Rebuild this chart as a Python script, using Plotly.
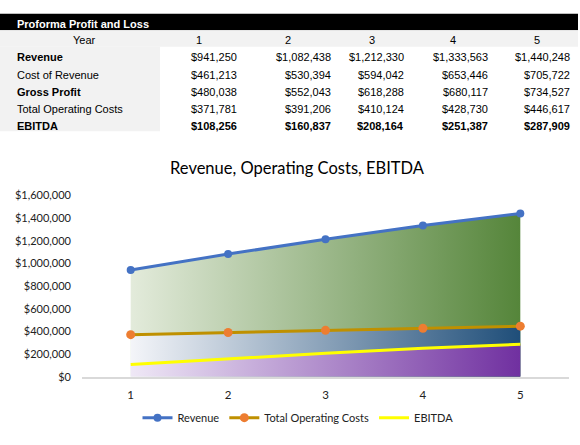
import plotly.graph_objects as go

# Proforma figures, years 1-5
years = [1, 2, 3, 4, 5]
revenue = [941250, 1082438, 1212330, 1333563, 1440248]
cost_of_revenue = [461213, 530394, 594042, 653446, 705722]
gross_profit = [480038, 552043, 618288, 680117, 734527]
operating_costs = [371781, 391206, 410124, 428730, 446617]
ebitda = [108256, 160837, 208164, 251387, 287909]

row_labels = ["Revenue", "Cost of Revenue", "Gross Profit", "Total Operating Costs", "EBITDA"]
row_values = [revenue, cost_of_revenue, gross_profit, operating_costs, ebitda]
bold_labels = ["Revenue", "Gross Profit", "EBITDA"]
bold_values = ["EBITDA"]

W, H = 580, 445


def px(x):
    return x / W


def py(y):
    return 1 - y / H


fig = go.Figure()

# filled areas (no legend), drawn back to front
fills = [
    (revenue, "#e3ebdb", "#55853a"),
    (operating_costs, "#f4f5f9", "#1f4e79"),
    (ebitda, "#efe8f6", "#7030a0"),
]
for vals, c0, c1 in fills:
    fig.add_trace(go.Scatter(
        x=years, y=vals, mode="none", fill="tozeroy", showlegend=False,
        fillgradient=dict(type="horizontal", colorscale=[[0, c0], [1, c1]]),
        hoverinfo="skip"))

# lines on top
fig.add_trace(go.Scatter(x=years, y=revenue, mode="lines+markers", name="Revenue",
                         line=dict(color="#4472c4", width=3),
                         marker=dict(color="#4472c4", size=8)))
fig.add_trace(go.Scatter(x=years, y=operating_costs, mode="lines+markers", name="Total Operating Costs",
                         line=dict(color="#bf9000", width=3),
                         marker=dict(color="#ed7d31", size=9)))
fig.add_trace(go.Scatter(x=years, y=ebitda, mode="lines", name="EBITDA",
                         line=dict(color="#ffff00", width=3)))

# table backgrounds
shapes = [
    dict(type="rect", xref="paper", yref="paper", x0=px(0), x1=px(578), y0=py(24), y1=py(7),
         fillcolor="black", line_width=0, layer="below"),
    dict(type="rect", xref="paper", yref="paper", x0=px(0), x1=px(578), y0=py(41), y1=py(24),
         fillcolor="#f2f2f2", line_width=0, layer="below"),
    dict(type="rect", xref="paper", yref="paper", x0=px(0), x1=px(160), y0=py(128), y1=py(41),
         fillcolor="#f2f2f2", line_width=0, layer="below"),
]

tfont = dict(family="Liberation Sans, Arial", size=11, color="black")
annotations = [
    dict(text="<b>Proforma Profit and Loss</b>", x=px(15), y=py(17), xanchor="left",
         font=dict(family="Liberation Sans, Arial", size=11, color="white")),
    dict(text="Year", x=px(84), y=py(34), xanchor="center", font=tfont),
]
year_centers = [199, 288, 372, 453, 537]
value_rights = [239, 333, 406, 490, 572]
for yr, cx in zip(years, year_centers):
    annotations.append(dict(text=str(yr), x=px(cx), y=py(34), xanchor="center", font=tfont))

row_h = 17.6
for i, (label, vals) in enumerate(zip(row_labels, row_values)):
    yc = 52 + i * row_h
    lab = f"<b>{label}</b>" if label in bold_labels else label
    annotations.append(dict(text=lab, x=px(15), y=py(yc), xanchor="left", font=tfont))
    for v, rx in zip(vals, value_rights):
        s = f"${v:,}"
        if label in bold_values:
            s = f"<b>{s}</b>"
        annotations.append(dict(text=s, x=px(rx), y=py(yc), xanchor="right", font=tfont))

for a in annotations:
    a.update(xref="paper", yref="paper", yanchor="middle", showarrow=False)

fig.update_layout(
    width=W, height=H,
    margin=dict(l=0, r=0, t=0, b=0),
    paper_bgcolor="white", plot_bgcolor="white",
    shapes=shapes, annotations=annotations,
    title=dict(text="Revenue, Operating Costs, EBITDA", x=px(297), xanchor="center",
               y=py(168), yanchor="middle", yref="container",
               font=dict(family="Lato", size=16.5, color="black")),
    xaxis=dict(domain=[px(82), px(569)], range=[0.5, 5.5], tickvals=years,
               showgrid=False, zeroline=False, showline=True, linecolor="#d9d9d9", linewidth=1.5,
               ticks="", ticklabelstandoff=7, tickfont=dict(family="Lato", size=11.5, color="#222222")),
    yaxis=dict(domain=[py(381), py(194)], range=[0, 1600000], dtick=200000,
               tickprefix="$", tickformat=",", showgrid=False, zeroline=False, showline=False,
               ticks="", ticklabelstandoff=10, tickfont=dict(family="Lato", size=11, color="#222222")),
    legend=dict(orientation="h", x=px(298), xanchor="center", y=py(423), yanchor="middle",
                font=dict(family="Lato", size=11, color="#222222"), itemwidth=30),
    showlegend=True,
)

# drop the default page margin so the figure sits at the window origin
fig.write_html("out.html", config={"displayModeBar": False},
               post_script="document.body.style.margin='0px';")
